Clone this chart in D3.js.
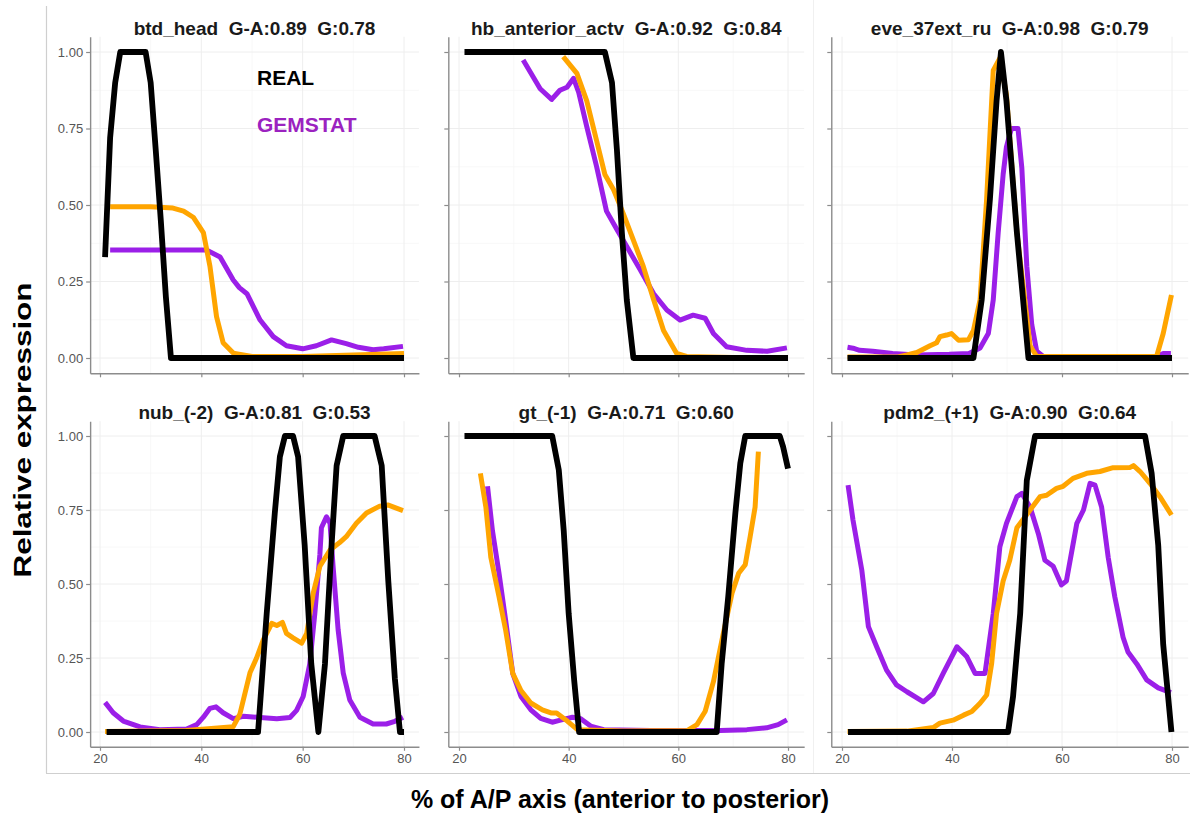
<!DOCTYPE html>
<html lang="en">
<head>
    <meta charset="utf-8">
    <title>D3: REAL vs GEMSTAT expression profiles</title>
    <script type="text/javascript" src="https://d3js.org/d3.v7.min.js"></script>
    <style>
        body { margin: 0; background: #fff; }
        svg text { font-family: "Liberation Sans", Arial, Helvetica, sans-serif; }
    </style>
</head>
<body>
    <script type="text/javascript">

        // Panel titles (gene, G-A score, G score)
        var panelTitles = [
            "btd_head  G-A:0.89  G:0.78",
            "hb_anterior_actv  G-A:0.92  G:0.84",
            "eve_37ext_ru  G-A:0.98  G:0.79",
            "nub_(-2)  G-A:0.81  G:0.53",
            "gt_(-1)  G-A:0.71  G:0.60",
            "pdm2_(+1)  G-A:0.90  G:0.64"
        ];

        var xTicks = [20, 40, 60, 80];
        var xMinor = [30, 50, 70];
        var yTicks = [0, 0.25, 0.5, 0.75, 1];
        var yMinor = [0.125, 0.375, 0.625, 0.875];

        // [% A/P position, relative expression]
        var realBtd = [[21,0.33],[22,0.72],[23,0.9],[24,1],[29,1],[30,0.9],[31,0.68],[32,0.45],[33,0.2],[34,0],[80,0]];
        var gemA_Btd = [[22,0.494],[30,0.494],[34.4,0.49],[36.5,0.48],[38.4,0.46],[40.4,0.41],[41.7,0.3],[43,0.135],[44.3,0.05],[46.3,0.016],[50,0.005],[60,0.005],[70,0.01],[80,0.015]];
        var gemBtd = [[22,0.353],[41,0.353],[43.7,0.33],[46.3,0.255],[47.5,0.23],[49,0.21],[51.6,0.124],[54.2,0.07],[56.8,0.04],[60,0.03],[62.7,0.04],[65.7,0.059],[68.6,0.047],[71,0.035],[73.9,0.027],[76,0.03],[79.8,0.038]];

        var realHb = [[21,1],[46.6,1],[47.9,0.9],[48.8,0.68],[49.7,0.41],[50.6,0.19],[51.8,0],[80,0]];
        var gemA_Hb = [[39,0.985],[41.5,0.93],[43.3,0.84],[45.1,0.71],[46.6,0.6],[48.2,0.55],[50,0.47],[51.8,0.385],[53.6,0.3],[55.5,0.19],[57.3,0.09],[59.7,0.015],[61.5,0.005],[70,0.002],[80,0.002]];
        var gemHb = [[31.7,0.974],[34.8,0.88],[36.9,0.845],[38.4,0.875],[39.7,0.885],[40.9,0.914],[41.8,0.87],[43.3,0.756],[45.1,0.625],[46.9,0.48],[48.8,0.42],[50.6,0.364],[53,0.29],[55.5,0.21],[57.9,0.157],[60.3,0.124],[62.7,0.14],[64.9,0.13],[66.4,0.08],[68.8,0.037],[72.5,0.025],[76.2,0.022],[79.8,0.033]];

        var realEve = [[21,0],[43.9,0],[45.4,0.19],[46.9,0.52],[48.1,0.84],[48.9,1],[49.9,0.84],[51.8,0.41],[53.9,0],[80,0]];
        var gemA_Eve = [[21,0.003],[30,0.003],[31.8,0.01],[33.6,0.018],[36,0.04],[37.2,0.05],[37.8,0.07],[39,0.075],[39.9,0.08],[41.2,0.058],[43,0.06],[43.9,0.09],[45.1,0.19],[46.3,0.52],[47.5,0.94],[48.7,0.98],[49.9,0.86],[51.8,0.41],[54.2,0.04],[55.4,0.005],[77.2,0.005],[78.4,0.08],[79.9,0.206]];
        var gemEve = [[21,0.035],[22,0.032],[23.2,0.025],[25.6,0.022],[29.2,0.015],[33.5,0.01],[39.5,0.012],[43.1,0.015],[45.1,0.033],[46.6,0.08],[47.5,0.19],[48.4,0.41],[49.3,0.6],[49.9,0.69],[50.8,0.75],[52,0.75],[52.7,0.62],[53.6,0.3],[54.5,0.11],[55.4,0.022],[56.6,0.005],[77.2,0.005],[78.4,0.015],[79.8,0.015]];

        var realNub = [[21.3,0],[51.2,0],[52.9,0.4],[54.5,0.74],[55.5,0.93],[56.5,1],[58.1,1],[59.1,0.93],[60.4,0.63],[61.7,0.23],[63.1,0],[64.4,0.23],[65.7,0.63],[66.7,0.9],[68,1],[74.2,1],[75.6,0.9],[76.9,0.51],[78.2,0.18],[79.2,0],[80,0]];
        var gemA_Nub = [[21,0.002],[37,0.005],[46.3,0.018],[47.6,0.06],[49.6,0.2],[50.9,0.25],[52.2,0.31],[53.9,0.367],[54.9,0.36],[56,0.37],[56.8,0.333],[58.1,0.318],[59.8,0.3],[60.8,0.333],[62.1,0.47],[63.4,0.56],[65.4,0.615],[67.3,0.64],[68.6,0.66],[70.6,0.705],[72.6,0.74],[75.2,0.763],[76.8,0.767],[79.8,0.748]];
        var gemNub = [[21,0.1],[22.6,0.065],[24.6,0.037],[27.9,0.017],[31.8,0.008],[37.1,0.01],[39.1,0.025],[40.4,0.05],[41.7,0.08],[42.9,0.085],[44.3,0.065],[46.3,0.045],[48.3,0.053],[51.6,0.049],[54.9,0.045],[57.5,0.049],[58.8,0.073],[60.1,0.12],[61.4,0.23],[62.4,0.4],[63.4,0.6],[63.7,0.69],[64.7,0.727],[65.4,0.705],[66,0.56],[67,0.345],[68,0.2],[69.3,0.108],[71.3,0.05],[73.9,0.027],[76.5,0.027],[78.2,0.036],[79.8,0.05]];

        var realGt = [[21,1],[37,1],[38.2,0.885],[39.1,0.68],[40,0.4],[41,0.176],[41.9,0],[67,0],[67.9,0.23],[69.1,0.457],[70.4,0.74],[71.3,0.908],[72.2,1],[78.5,1],[79.1,0.964],[80,0.89]];
        var gemA_Gt = [[23.9,0.874],[24.9,0.76],[25.8,0.59],[27.3,0.457],[28.5,0.345],[29.8,0.198],[31.3,0.14],[33.1,0.098],[35.2,0.075],[36.9,0.064],[37.8,0.064],[39.8,0.036],[41.6,0.008],[50,0.003],[61.6,0.005],[63.4,0.025],[64.9,0.07],[66.4,0.17],[68.2,0.333],[69.8,0.47],[71,0.536],[72.2,0.565],[73.1,0.66],[74,0.76],[74.6,0.947]];
        var gemGt = [[25.2,0.83],[26.1,0.68],[27.3,0.536],[28.5,0.378],[29.8,0.198],[31.3,0.12],[33.1,0.075],[34.9,0.046],[37,0.033],[38.5,0.04],[40.7,0.05],[42.2,0.045],[44,0.02],[46.4,0.008],[55,0.005],[67.6,0.005],[72.5,0.008],[76.1,0.014],[78.2,0.025],[79.8,0.041]];

        var realPdm2 = [[21.1,0],[50.2,0],[51.1,0.12],[52.4,0.4],[53.6,0.85],[55.1,1],[75.1,1],[76.3,0.874],[77.5,0.63],[78.4,0.296],[79.9,0]];
        var gemA_Pdm2 = [[21,0.002],[31.8,0.003],[36.6,0.015],[37.8,0.03],[40.2,0.04],[42.1,0.057],[43.6,0.069],[45.1,0.097],[46.3,0.125],[47.2,0.23],[48.1,0.4],[49.3,0.51],[50.5,0.58],[51.8,0.69],[53.6,0.735],[56,0.795],[57.2,0.8],[59,0.823],[60.2,0.83],[62,0.857],[64.5,0.874],[66.9,0.88],[69.3,0.893],[72.4,0.894],[73,0.9],[74.2,0.88],[76,0.84],[77.8,0.795],[79.9,0.733]];
        var gemPdm2 = [[21.1,0.834],[22,0.716],[23.6,0.547],[24.8,0.356],[26.3,0.288],[28.1,0.209],[29.9,0.159],[31.8,0.136],[34.8,0.102],[36.6,0.13],[38.4,0.198],[40.9,0.288],[42.7,0.254],[44.2,0.198],[46,0.198],[47.5,0.4],[48.7,0.626],[49.9,0.705],[51.8,0.795],[52.7,0.806],[54.2,0.76],[55.7,0.67],[56.9,0.58],[58.4,0.56],[59.9,0.497],[60.8,0.51],[62.7,0.705],[63.9,0.75],[65.1,0.84],[66,0.834],[67.2,0.76],[68.4,0.59],[69.6,0.457],[71.1,0.32],[72,0.27],[73.6,0.23],[75.4,0.176],[77.5,0.149],[79.8,0.133]];

        var realSeries = [realBtd, realHb, realEve, realNub, realGt, realPdm2];
        var gemASeries = [gemA_Btd, gemA_Hb, gemA_Eve, gemA_Nub, gemA_Gt, gemA_Pdm2];
        var gemSeries = [gemBtd, gemHb, gemEve, gemNub, gemGt, gemPdm2];

        var colors = { real: "#000000", gem: "#9b1fe8", gemA: "#ffa500" };

        // pixel positions of x = 20 and 80 per column, y = 0 and 1 per row
        var cols = [[100, 404], [459, 788], [842, 1172]];
        var rows = [[358, 52], [732, 436]];

        var svg = d3.select("body").append("svg")
            .attr("width", 1190)
            .attr("height", 814);

        // outer frame (left + bottom)
        svg.append("line").attr("x1", 46.5).attr("x2", 46.5).attr("y1", 6).attr("y2", 773)
            .attr("stroke", "#cfcfcf").attr("stroke-width", 1.2);
        svg.append("line").attr("x1", 46).attr("x2", 1190).attr("y1", 773.5).attr("y2", 773.5)
            .attr("stroke", "#cfcfcf").attr("stroke-width", 1.2);
        svg.append("line").attr("x1", 813.5).attr("x2", 813.5).attr("y1", 0).attr("y2", 773)
            .attr("stroke", "#f0f0f0").attr("stroke-width", 1);

        var line = d3.line();

        panelTitles.forEach(function(title, i) {
            var ci = i % 3, ri = Math.floor(i / 3);
            var bx = d3.scaleLinear().domain([20, 80]).range(cols[ci]);
            var by = d3.scaleLinear().domain([0, 1]).range(rows[ri]);
            var x = d3.scaleLinear().domain([18.05, 82.95]).range([bx(18.05), bx(82.95)]);
            var y = d3.scaleLinear().domain([-0.05, 1.05]).range([by(-0.05), by(1.05)]);
            var left = x.range()[0], right = x.range()[1];
            var top = y.range()[1], bottom = y.range()[0];

            var g = svg.append("g");

            // grid
            g.selectAll(".vminor").data(xMinor).enter().append("line")
                .attr("x1", d => x(d)).attr("x2", d => x(d)).attr("y1", top).attr("y2", bottom)
                .attr("stroke", "#f6f6f6").attr("stroke-width", 0.8);
            g.selectAll(".hminor").data(yMinor).enter().append("line")
                .attr("y1", d => y(d)).attr("y2", d => y(d)).attr("x1", left).attr("x2", right)
                .attr("stroke", "#f6f6f6").attr("stroke-width", 0.8);
            g.selectAll(".vmajor").data(xTicks).enter().append("line")
                .attr("x1", d => x(d)).attr("x2", d => x(d)).attr("y1", top).attr("y2", bottom)
                .attr("stroke", "#eeeeee").attr("stroke-width", 1);
            g.selectAll(".hmajor").data(yTicks).enter().append("line")
                .attr("y1", d => y(d)).attr("y2", d => y(d)).attr("x1", left).attr("x2", right)
                .attr("stroke", "#eeeeee").attr("stroke-width", 1);

            // axes
            var yAxis = d3.axisLeft(y).tickValues(yTicks).tickSize(4).tickSizeOuter(0).tickPadding(3)
                .tickFormat(ci === 0 ? d3.format(".2f") : function() { return ""; });
            var xAxis = d3.axisBottom(x).tickValues(xTicks).tickSize(4).tickSizeOuter(0).tickPadding(3)
                .tickFormat(ri === 1 ? d3.format("d") : function() { return ""; });

            var ya = g.append("g").attr("transform", "translate(" + left + ",0)").call(yAxis);
            var xa = g.append("g").attr("transform", "translate(0," + bottom + ")").call(xAxis);
            [ya, xa].forEach(function(a) {
                a.select(".domain").attr("stroke", "#8c8c8c").attr("stroke-width", 1.4);
                a.selectAll(".tick line").attr("stroke", "#8c8c8c").attr("stroke-width", 1.2);
                a.selectAll(".tick text").attr("fill", "#555555").style("font-size", "13px")
                    .style("font-family", "'Liberation Sans', Arial, sans-serif");
            });

            // series: GEMSTAT (purple), GEMSTAT-A (orange), REAL (black)
            [[gemSeries[i], colors.gem, 5], [gemASeries[i], colors.gemA, 5], [realSeries[i], colors.real, 5.8]]
                .forEach(function(s) {
                    g.append("path")
                        .attr("d", line.x(d => x(d[0])).y(d => y(d[1]))(s[0]))
                        .attr("fill", "none")
                        .attr("stroke", s[1])
                        .attr("stroke-width", s[2])
                        .attr("stroke-linejoin", "round")
                        .attr("stroke-linecap", "butt");
                });

            // title
            g.append("text")
                .attr("x", (left + right) / 2)
                .attr("y", ri === 0 ? 35 : 419)
                .attr("text-anchor", "middle")
                .style("white-space", "pre")
                .style("font-size", "19px")
                .style("font-weight", "bold")
                .attr("fill", "#1a1a1a")
                .text(title);
        });

        // legend text in first panel
        svg.append("text").attr("x", 257).attr("y", 85)
            .style("font-size", "21px").style("font-weight", "bold").attr("fill", "#000")
            .text("REAL");
        svg.append("text").attr("x", 257).attr("y", 132)
            .style("font-size", "21px").style("font-weight", "bold").attr("fill", "#9b22c0")
            .text("GEMSTAT");

        // axis titles
        svg.append("text")
            .attr("transform", "translate(31,430) rotate(-90)")
            .attr("text-anchor", "middle")
            .attr("textLength", 295)
            .attr("lengthAdjust", "spacingAndGlyphs")
            .style("font-size", "24px").style("font-weight", "bold")
            .text("Relative expression");
        svg.append("text")
            .attr("x", 620).attr("y", 808)
            .attr("text-anchor", "middle")
            .style("font-size", "25px").style("font-weight", "bold")
            .text("% of A/P axis (anterior to posterior)");

    </script>
</body>
</html>
